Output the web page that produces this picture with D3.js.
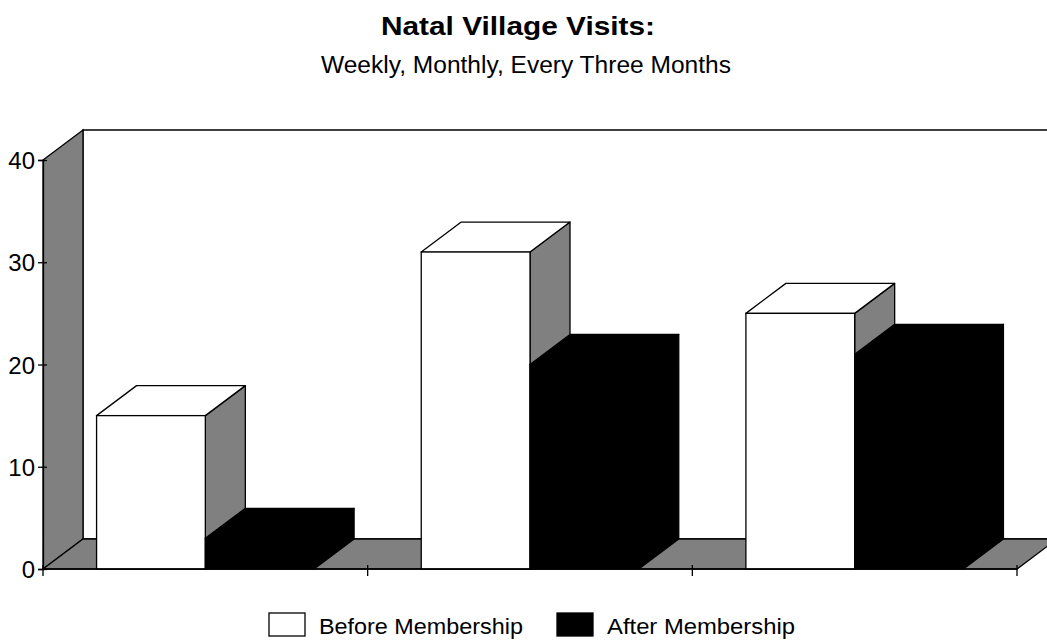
<!DOCTYPE html>
<meta charset="utf-8">
<script src="https://d3js.org/d3.v7.min.js"></script>
<title>Natal Village Visits</title>
<style>
body { margin: 0; background: #fff; }
text { font-family: "Liberation Sans", Arial, sans-serif; fill: #000; }
</style>
<body>
<div id="chart"></div>
<script>

// data
const categories = ["Weekly", "Monthly", "Every Three Months"];
const seriesNames = ["Before Membership", "After Membership"];
const before = [15, 31, 25];
const after = [3, 20, 21];
const yTicks = [0, 10, 20, 30, 40];

const W = 1047, H = 643;
const plotLeft = 43, plotRight = 1017, plotBottom = 569, plotTop = 160;
const depth = {x: 40, y: -30};   // 3D offset of the back plane
const sideGrey = "#808080";

const svg = d3.select("#chart").append("svg")
    .attr("width", W).attr("height", H);

const x0 = d3.scaleBand().domain(categories).range([plotLeft, plotRight])
    .paddingInner(0.33).paddingOuter(0.165);
const x1 = d3.scaleBand().domain(seriesNames).range([0, x0.bandwidth()]);
const y = d3.scaleLinear().domain([0, 40]).range([plotBottom, plotTop]);

const pts = p => p.map(d => d.join(",")).join(" ");

// back wall
svg.append("polygon")
    .attr("points", pts([[plotLeft + depth.x, y(40) + depth.y], [plotRight + depth.x, y(40) + depth.y],
                         [plotRight + depth.x, y(0) + depth.y], [plotLeft + depth.x, y(0) + depth.y]]))
    .attr("fill", "#fff").attr("stroke", "#000").attr("stroke-width", 1.3);

// left wall
svg.append("polygon")
    .attr("points", pts([[plotLeft, y(40)], [plotLeft + depth.x, y(40) + depth.y],
                         [plotLeft + depth.x, y(0) + depth.y], [plotLeft, y(0)]]))
    .attr("fill", sideGrey).attr("stroke", "#000").attr("stroke-width", 1.3);

// floor
svg.append("polygon")
    .attr("points", pts([[plotLeft, y(0)], [plotLeft + depth.x, y(0) + depth.y],
                         [plotRight + depth.x, y(0) + depth.y], [plotRight, y(0)]]))
    .attr("fill", sideGrey).attr("stroke", "#000").attr("stroke-width", 1.3);

// bars, drawn left to right so each front covers the side of the one before
const bars = [];
categories.forEach((c, i) => {
  bars.push({cat: c, s: seriesNames[0], v: before[i], fill: "#fff", side: sideGrey});
  bars.push({cat: c, s: seriesNames[1], v: after[i], fill: "#000", side: "#000"});
});

const g = svg.append("g");
bars.forEach(b => {
  const x = x0(b.cat) + x1(b.s), w = x1.bandwidth();
  const yt = y(b.v), yb = y(0);
  const dx = depth.x, dy = depth.y;
  // side
  g.append("polygon")
    .attr("points", pts([[x + w, yt], [x + w + dx, yt + dy], [x + w + dx, yb + dy], [x + w, yb]]))
    .attr("fill", b.side).attr("stroke", "#000").attr("stroke-width", 1.3)
    .attr("stroke-linejoin", "round");
  // top
  g.append("polygon")
    .attr("points", pts([[x, yt], [x + dx, yt + dy], [x + w + dx, yt + dy], [x + w, yt]]))
    .attr("fill", b.fill).attr("stroke", "#000").attr("stroke-width", 1.3)
    .attr("stroke-linejoin", "round");
  // front
  g.append("rect")
    .attr("x", x).attr("y", yt).attr("width", w).attr("height", yb - yt)
    .attr("fill", b.fill).attr("stroke", "#000").attr("stroke-width", 1.3);
});

// y axis, ticks cross the axis line
const yAxis = svg.append("g")
    .attr("transform", `translate(${plotLeft},0)`)
    .call(d3.axisLeft(y).tickValues(yTicks).tickSize(5).tickPadding(3));
yAxis.select(".domain").attr("stroke-width", 1.3);
yAxis.selectAll(".tick line").attr("x2", 4).attr("x1", -5).attr("stroke-width", 1.3);
yAxis.selectAll("text").style("font-size", "24px").attr("dy", "0.36em");

// x axis: line plus tick marks at the category boundaries
const xTicks = categories.map(c => x0(c) - x0.step() * x0.paddingInner() / 2)
    .concat([plotRight]);
xTicks[0] = plotLeft;
svg.append("line").attr("x1", plotLeft).attr("x2", plotRight)
    .attr("y1", plotBottom).attr("y2", plotBottom)
    .attr("stroke", "#000").attr("stroke-width", 1.5);
svg.selectAll(".xtick").data(xTicks).join("line")
    .attr("class", "xtick")
    .attr("x1", d => d).attr("x2", d => d)
    .attr("y1", plotBottom - 4).attr("y2", plotBottom + 7)
    .attr("stroke", "#000").attr("stroke-width", 1.3);

// titles
svg.append("text").attr("x", 518).attr("y", 35)
    .attr("text-anchor", "middle")
    .style("font-size", "26px").style("font-weight", "bold")
    .attr("textLength", 274).attr("lengthAdjust", "spacingAndGlyphs")
    .text("Natal Village Visits:");
svg.append("text").attr("x", 526).attr("y", 73)
    .attr("text-anchor", "middle")
    .style("font-size", "23px")
    .attr("textLength", 410).attr("lengthAdjust", "spacingAndGlyphs")
    .text("Weekly, Monthly, Every Three Months");

// legend
const legend = [
  {name: seriesNames[0], fill: "#fff", x: 269, w: 204},
  {name: seriesNames[1], fill: "#000", x: 557, w: 188}
];
const lg = svg.append("g");
legend.forEach(l => {
  lg.append("rect").attr("x", l.x).attr("y", 613).attr("width", 36).attr("height", 23)
    .attr("fill", l.fill).attr("stroke", "#000").attr("stroke-width", 1.3);
  lg.append("text").attr("x", l.x + 50).attr("y", 634)
    .style("font-size", "22px")
    .attr("textLength", l.w).attr("lengthAdjust", "spacingAndGlyphs")
    .text(l.name);
});

</script>
</body>
